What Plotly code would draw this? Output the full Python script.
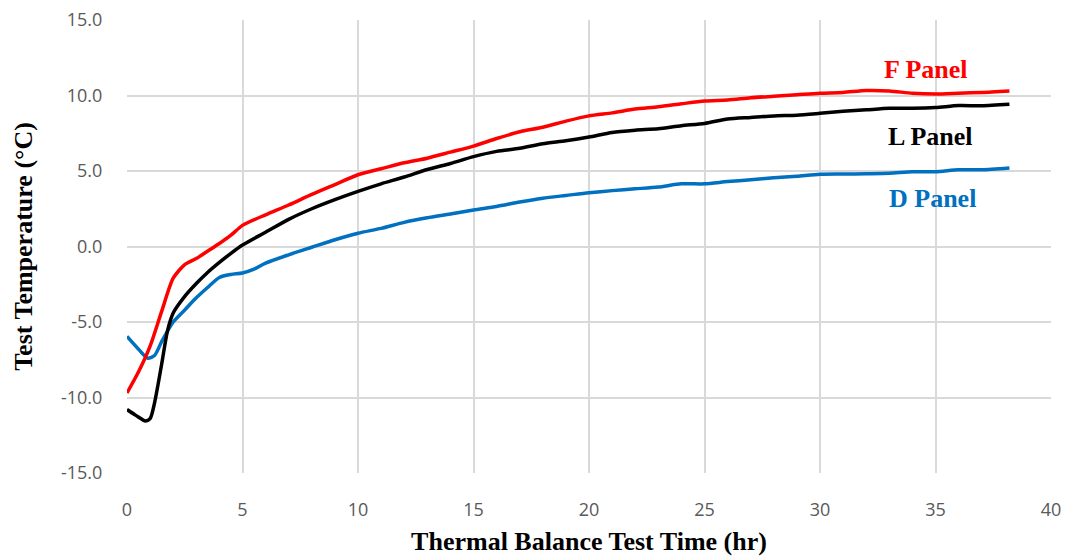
import plotly.graph_objects as go

f_time = [0, 0.5, 1, 1.5, 2, 2.5, 3, 3.5, 4, 4.5, 5, 6, 7, 8, 9, 10, 11, 12, 13, 14, 15, 16, 17, 18, 19, 20,
          21, 22, 23, 24, 25, 26, 27, 28, 29, 30, 31, 32, 33, 34, 35, 36, 37, 38.2]
f_temp = [-9.7, -8.3, -6.6, -4.3, -2.1, -1.2, -0.8, -0.3, 0.2, 0.75, 1.4, 2.1, 2.75, 3.45, 4.1, 4.75, 5.15,
          5.55, 5.85, 6.25, 6.65, 7.15, 7.6, 7.9, 8.3, 8.65, 8.85, 9.1, 9.25, 9.45, 9.64, 9.7, 9.85, 9.95,
          10.05, 10.15, 10.2, 10.33, 10.3, 10.15, 10.1, 10.15, 10.2, 10.3]

l_time = [0, 0.4, 0.8, 1.0, 1.2, 1.5, 1.75, 2, 2.5, 3, 3.5, 4, 4.5, 5, 6, 7, 8, 9, 10, 11, 12, 13, 14, 15,
          16, 17, 18, 19, 20, 21, 22, 23, 24, 25, 26, 27, 28, 29, 30, 31, 32, 33, 34, 35, 36, 37, 38.2]
l_temp = [-10.8, -11.2, -11.55, -11.4, -10.3, -7.8, -5.6, -4.4, -3.3, -2.45, -1.7, -1.05, -0.45, 0.1, 0.95,
          1.8, 2.5, 3.1, 3.65, 4.15, 4.6, 5.1, 5.5, 5.95, 6.3, 6.5, 6.8, 7.0, 7.25, 7.55, 7.7, 7.8, 8.0,
          8.15, 8.45, 8.55, 8.65, 8.7, 8.82, 8.95, 9.05, 9.15, 9.15, 9.2, 9.33, 9.32, 9.42]

d_time = [0, 0.5, 0.9, 1.2, 1.5, 2, 2.5, 3, 3.5, 4, 4.5, 5, 5.5, 6, 7, 8, 9, 10, 11, 12, 13, 14, 15, 16, 17,
          18, 19, 20, 21, 22, 23, 24, 25, 26, 27, 28, 29, 30, 31, 32, 33, 34, 35, 36, 37, 38.2]
d_temp = [-5.95, -6.8, -7.4, -7.2, -6.3, -5.0, -4.2, -3.4, -2.7, -2.05, -1.85, -1.75, -1.5, -1.1, -0.55,
          -0.05, 0.45, 0.88, 1.2, 1.6, 1.9, 2.15, 2.42, 2.65, 2.95, 3.2, 3.38, 3.56, 3.7, 3.82, 3.94, 4.15,
          4.15, 4.3, 4.42, 4.55, 4.65, 4.78, 4.8, 4.82, 4.85, 4.95, 4.95, 5.08, 5.08, 5.2]

y_ticks = [-15, -10, -5, 0, 5, 10, 15]
y_tick_text = ["-15.0", "-10.0", "-5.0", "0.0", "5.0", "10.0", "15.0"]
x_ticks = [0, 5, 10, 15, 20, 25, 30, 35, 40]

labels = ["F Panel", "L Panel", "D Panel"]
label_x = [34.6, 34.8, 34.85]
label_y = [11.7, 7.3, 3.15]

RED = "#FF0000"
BLACK = "#000000"
BLUE = "#0070C0"

fig = go.Figure()
for t, v, c, n in [(d_time, d_temp, BLUE, "D Panel"), (l_time, l_temp, BLACK, "L Panel"),
                   (f_time, f_temp, RED, "F Panel")]:
    fig.add_trace(go.Scatter(x=t, y=v, mode="lines", name=n,
                             line=dict(color=c, width=3.5, shape="spline", smoothing=0.7)))

for txt, x, y, c in zip(labels, label_x, label_y, [RED, BLACK, BLUE]):
    fig.add_annotation(x=x, y=y, text="<b>" + txt + "</b>", showarrow=False,
                       font=dict(family="Liberation Serif", size=26, color=c))

fig.update_layout(
    width=1066, height=556,
    margin=dict(l=127, r=15, t=20, b=83),
    plot_bgcolor="white", paper_bgcolor="white",
    showlegend=False,
    xaxis=dict(range=[0, 40], tickvals=x_ticks, showgrid=True, gridcolor="#D9D9D9", gridwidth=1.5,
               zeroline=False, showline=False, ticks="outside", ticklen=20, automargin=False,
               tickcolor="rgba(0,0,0,0)",
               tickfont=dict(family="Open Sans", size=18, color="#595959"),
               title=dict(text="<b>Thermal Balance Test Time (hr)</b>", standoff=16,
                          font=dict(family="Liberation Serif", size=26, color="black"))),
    yaxis=dict(range=[-15, 15], tickvals=y_ticks, ticktext=y_tick_text, showgrid=True,
               gridcolor="#D9D9D9", automargin=False,
               gridwidth=1.5, zeroline=False, showline=False, ticks="outside", ticklen=20,
               tickcolor="rgba(0,0,0,0)",
               tickfont=dict(family="Open Sans", size=18, color="#595959"),
               title=dict(text="<b>Test Temperature (°C)</b>", standoff=20,
                          font=dict(family="Liberation Serif", size=26, color="black"))),
)

fig.write_html("out.html")
